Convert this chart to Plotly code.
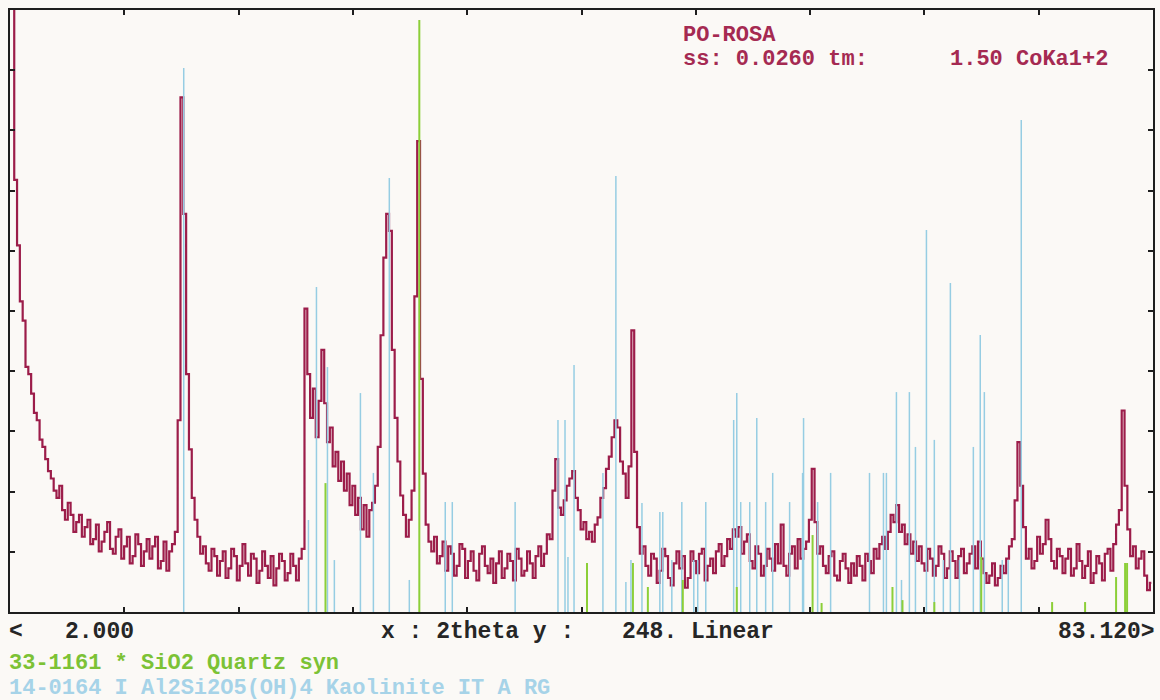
import numpy as np
import plotly.graph_objects as go

# ---------------- data ----------------
START_2THETA = 2.0
STEP_2THETA = 0.2
X_MIN, X_MAX = 2.000, 83.120
Y_MAX = 248

counts_a = [260, 250, 178, 151, 128, 120, 101, 98, 90, 82, 79, 71, 68, 63, 58, 55, 50, 47, 52, 42, 38, 45, 40, 33, 37]
counts_b = [40, 31, 35, 38, 28, 30, 36, 25, 29, 33, 37, 26, 24, 31, 34, 22, 27, 31, 20, 23, 32, 28, 19, 25, 30]
counts_c = [22, 27, 31, 18, 21, 29, 17, 25, 28, 33, 79, 212, 164, 98, 67, 47, 38, 31, 24, 27, 20, 17, 26, 23, 15]
counts_d = [21, 25, 14, 18, 26, 23, 13, 19, 28, 20, 15, 24, 22, 12, 17, 25, 19, 14, 23, 11, 18, 24, 21, 13, 16]
counts_e = [24, 19, 13, 22, 26, 125, 98, 80, 92, 72, 87, 108, 86, 70, 76, 60, 66, 54, 62, 50, 57, 44, 52, 40, 47]
counts_f = [34, 44, 31, 42, 45, 52, 68, 114, 146, 164, 157, 108, 80, 62, 48, 40, 31, 38, 50, 130, 194, 96, 57, 36, 29]
counts_g = [25, 31, 20, 23, 29, 17, 27, 24, 15, 19, 28, 26, 14, 21, 25, 17, 13, 24, 27, 19, 16, 22, 12, 20, 25]
counts_h = [14, 18, 24, 21, 13, 26, 22, 15, 17, 25, 20, 14, 23, 27, 19, 24, 32, 30, 50, 63, 43, 40, 46, 52, 55]
counts_i = [58, 47, 42, 34, 37, 30, 33, 29, 36, 39, 47, 51, 59, 64, 72, 79, 76, 62, 57, 47, 60, 116, 66, 35, 24]
counts_j = [27, 19, 15, 24, 22, 12, 17, 26, 23, 14, 11, 20, 25, 18, 23, 10, 14, 25, 21, 16, 24, 26, 13, 19, 22]
counts_k = [16, 25, 28, 19, 23, 30, 26, 34, 31, 35, 24, 29, 32, 21, 18, 27, 24, 15, 19, 26, 22, 17, 28, 20, 36]
counts_l = [19, 15, 24, 27, 18, 30, 22, 26, 29, 38, 59, 37, 24, 27, 19, 16, 23, 25, 15, 13, 21, 24, 18, 12, 20]
counts_m = [15, 23, 19, 13, 24, 21, 16, 26, 22, 28, 31, 26, 33, 40, 37, 44, 33, 36, 28, 32, 24, 29, 21, 27, 20]
counts_n = [17, 26, 22, 15, 19, 27, 24, 14, 18, 25, 21, 14, 23, 26, 16, 20, 24, 27, 18, 29, 22, 16, 12, 15, 20]
counts_o = [11, 14, 19, 16, 22, 27, 30, 46, 70, 52, 35, 22, 26, 18, 21, 31, 24, 28, 38, 30, 21, 18, 26, 23, 16]
counts_p = [22, 26, 15, 18, 28, 21, 14, 19, 25, 12, 16, 23, 20, 13, 24, 26, 17, 28, 36, 42, 83, 52, 34, 23, 27, 18, 22, 25, 15, 9, 12]

# Quartz (33-1161) reference lines: 2theta, intensity (chart units)
quartz_2theta = [24.39, 31.05, 42.95, 46.21, 47.27, 49.75, 53.58, 58.96, 59.60, 64.63, 65.34, 67.60, 70.93, 75.96, 78.30, 80.50, 81.14, 81.28]
quartz_int = [53.1, 243.9, 20.2, 20.2, 10.3, 13.2, 10.3, 31.7, 3.7, 10.3, 4.9, 4.1, 22.7, 4.1, 4.1, 14.4, 20.2, 20.2]

# Kaolinite (14-0164) reference lines
kaol_2theta = [14.33, 23.18, 23.75, 24.53, 25.02, 26.87, 27.79, 28.92, 30.34, 32.89, 33.39, 37.85,
               40.89, 41.39, 41.60, 42.03, 44.08, 45.00, 45.71, 46.07, 46.85, 48.12, 48.33, 48.97,
               49.68, 50.53, 50.81, 51.38, 53.36, 53.58, 53.86, 54.50, 55.00, 55.63, 56.13, 57.33,
               58.25, 58.32, 59.32, 60.24, 63.00, 63.99, 64.20, 64.91, 65.27, 65.83, 66.26, 67.04,
               67.60, 68.24, 68.74, 69.38, 70.37, 70.86, 71.15, 72.42, 72.85, 73.77]
kaol_int = [224.1, 37.9, 133.9, 100.9, 21.4, 90.2, 57.3, 178.8, 13.2, 45.3, 45.3, 45.3,
            79.1, 79.1, 22.7, 101.8, 57.3, 179.6, 12.4, 21.4, 44.9, 41.2, 41.2, 21.4,
            45.3, 21.4, 21.4, 45.3, 79.1, 90.2, 45.3, 45.3, 79.9, 45.3, 57.3, 45.3,
            57.3, 79.9, 45.3, 57.3, 57.3, 57.3, 57.3, 90.6, 13.2, 90.6, 68.0, 157.4,
            70.9, 21.4, 135.5, 21.4, 68.0, 114.1, 90.6, 21.4, 21.4, 202.7]

header_title = "PO-ROSA"
header_left = "ss: 0.0260 tm:"
header_right = "1.50 CoKa1+2"
footer_left_a = "<"
footer_left_b = "2.000"
footer_mid = "x : 2theta y :"
footer_ymax = "248. Linear"
footer_right = "83.120>"
legend_quartz = "33-1161 * SiO2 Quartz syn"
legend_kaol = "14-0164 I Al2Si2O5(OH)4 Kaolinite IT A RG"
N_TICK_DIV = 10

# ---------------- build ----------------
counts = (counts_a + counts_b + counts_c + counts_d + counts_e + counts_f + counts_g + counts_h +
          counts_i + counts_j + counts_k + counts_l + counts_m + counts_n + counts_o + counts_p)
two_theta = START_2THETA + STEP_2THETA * np.arange(len(counts))

def sticks(xs, ys):
    sx, sy = [], []
    for x, y in zip(xs, ys):
        sx += [x, x, None]
        sy += [0, y, None]
    return sx, sy

BG = "#FBF9F6"
RED = "#9C1D4A"
GREEN = "#8CCF38"
BLUE = "#96CDE3"
MONO = "Liberation Mono"

fig = go.Figure()
fig.add_trace(go.Scatter(x=two_theta, y=counts, mode="lines",
                         line=dict(color=RED, width=2.2, shape="hvh"), hoverinfo="skip"))
kx, ky = sticks(kaol_2theta, kaol_int)
fig.add_trace(go.Scatter(x=kx, y=ky, mode="lines", line=dict(color=BLUE, width=1.5), hoverinfo="skip"))
qx, qy = sticks(quartz_2theta, quartz_int)
fig.add_trace(go.Scatter(x=qx, y=qy, mode="lines", line=dict(color=GREEN, width=2), hoverinfo="skip"))

xt = list(np.linspace(X_MIN, X_MAX, N_TICK_DIV + 1))
yt = list(np.linspace(0, Y_MAX, N_TICK_DIV + 1))
axis_common = dict(showline=True, linecolor="#1E1E1E", linewidth=2, mirror="ticks",
                   ticks="inside", ticklen=5, tickwidth=2, tickcolor="#1E1E1E",
                   showticklabels=False, showgrid=False, zeroline=False)
fig.update_xaxes(range=[X_MIN, X_MAX], tickvals=xt, **axis_common)
fig.update_yaxes(range=[0, Y_MAX], tickvals=yt, **axis_common)

L, R, T, B = 10, 5, 10, 88
W, H = 1160, 700
PW, PH = W - L - R, H - T - B

def px(xp):
    return (xp - L) / PW

def py(yp):
    return (H - B - yp) / PH

def ann(text, x, y, color, anchor="left", size=23):
    fig.add_annotation(text=text, x=px(x), y=py(y), xref="paper", yref="paper",
                       xanchor=anchor, yanchor="middle", showarrow=False, borderpad=0,
                       font=dict(family=MONO, size=size, color=color, weight="bold"))

HEAD = "#A52A52"
ann(header_title, 683, 35, HEAD, size=22)
ann(header_left, 683, 59, HEAD, size=22)
ann(header_right, 1111, 59, HEAD, anchor="right", size=22)
ann(footer_left_a, 8, 632, "#262626")
ann(footer_left_b, 64, 632, "#262626")
ann(footer_mid, 381, 632, "#262626")
ann(footer_ymax, 622, 632, "#262626")
ann(footer_right, 1158, 632, "#262626", anchor="right")
ann(legend_quartz, 8, 664, "#7CC235", size=22)
ann(legend_kaol, 8, 688, "#A6D3E8", size=22)

fig.update_layout(width=W, height=H, margin=dict(l=L, r=R, t=T, b=B),
                  paper_bgcolor=BG, plot_bgcolor=BG, showlegend=False)
fig.write_html("out.html", config={"displayModeBar": False},
               post_script="document.body.style.margin='0';document.body.style.background='%s';" % BG)
